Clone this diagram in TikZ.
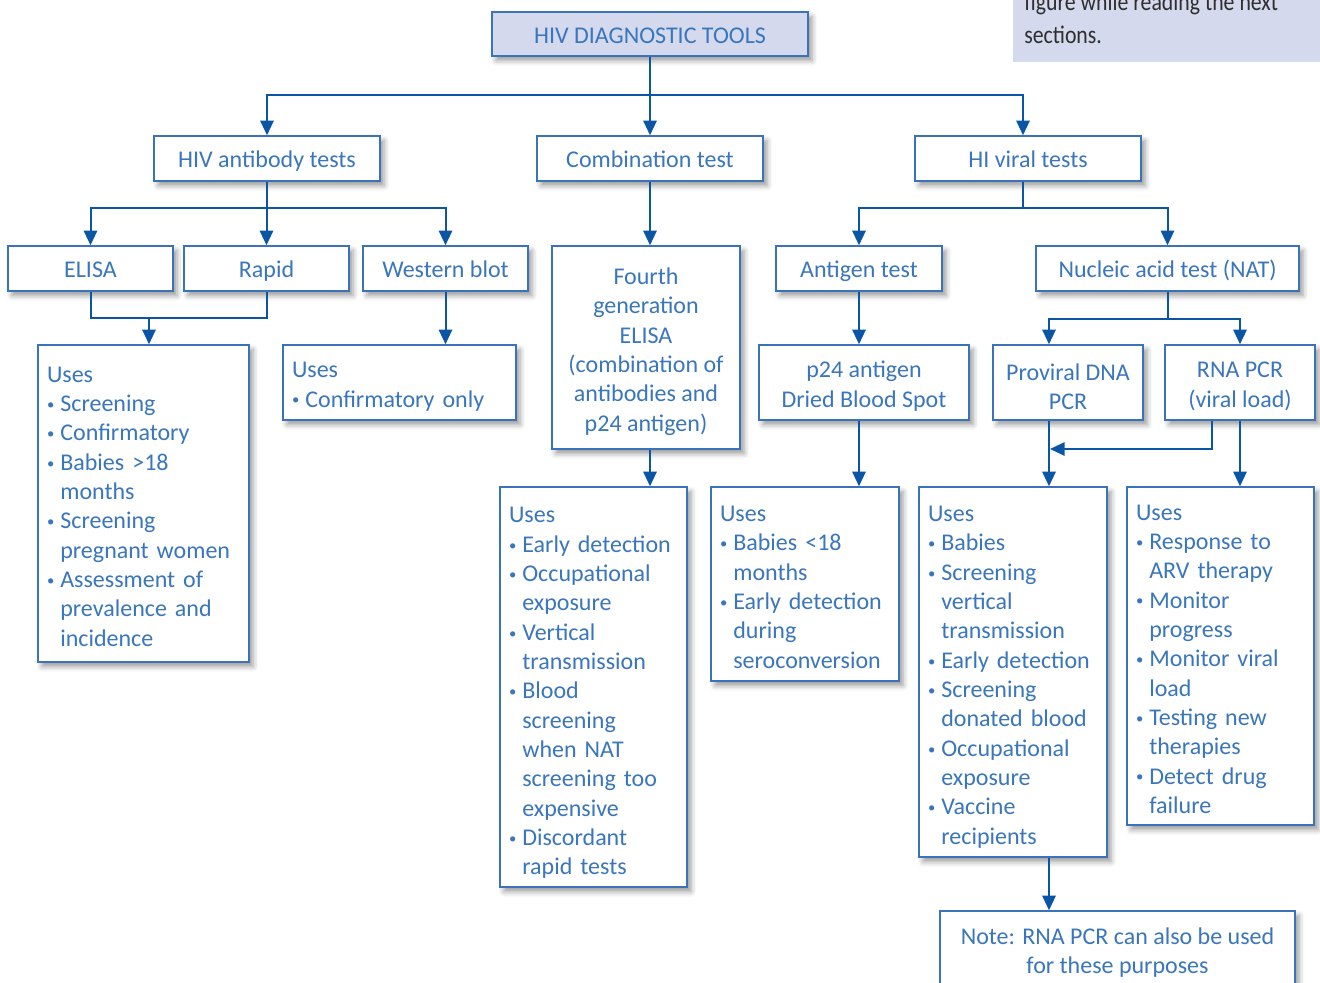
\documentclass[tikz,border=0pt]{standalone}
\usepackage{fontspec}
\setmainfont{Carlito}
\newfontfamily\condfont[FakeStretch=0.86]{Carlito}
\usetikzlibrary{arrows.meta,shadows.blur}

\definecolor{hivblue}{HTML}{0A56A5}
\definecolor{boxline}{HTML}{3A73BA}
\definecolor{boxtext}{HTML}{3A76BB}
\definecolor{lav}{HTML}{D4D9ED}
\definecolor{hintgrey}{HTML}{2E2E2E}

% bullet and hanging indent for the "Uses" lists
\newcommand\bl{\makebox[10pt][l]{\raisebox{1.6pt}{\fontsize{11}{11}\selectfont\textbullet}}}
\newcommand\ind{\hspace*{10pt}}
% extra room above the first line of a multi-line box
\newcommand\topgap[1]{\rule{0pt}{#1}}

\tikzset{
  box/.style={draw=boxline, line width=1.1pt, fill=white, text=boxtext,
    font=\fontsize{18}{22}\selectfont, inner sep=0pt,
    blur shadow={shadow xshift=3pt, shadow yshift=-3.5pt,
      shadow blur radius=4pt, shadow opacity=40}},
  onebox/.style={box, text height=16pt, text depth=2.2pt},
  usesbox/.style={box, align=left, inner xsep=6.75pt},
  link/.style={draw=hivblue, line width=1.5pt},
  feed/.style={link, -{Triangle[width=10pt,length=11pt]}},
  hint/.style={text=hintgrey, font=\condfont\fontsize{19}{22}\selectfont,
    inner sep=0pt, anchor=base west},
}

\begin{document}
\begin{tikzpicture}[x=0.75pt,y=-0.75pt]
\useasboundingbox (0,0) rectangle (1320,982);
\clip (0,0) rectangle (1320,982);

% reading hint in the corner
\fill[lav] (1013,-5) rectangle (1325,62);
\node[hint] (hint1) at (1024,10) {figure while reading the next};
\node[hint] (hint2) at (1024,43) {sections.};

% title
\node[box, fill=lav, text height=16.8pt, text depth=2.2pt,
  minimum width=237pt, minimum height=33pt] (title) at (650,34)
  {HIV DIAGNOSTIC TOOLS};

% main test families
\node[onebox, minimum width=169.5pt, minimum height=33.75pt] (hab) at (267,158.5) {HIV antibody tests};
\node[onebox, minimum width=169.5pt, minimum height=33.75pt] (comb) at (650,158.5) {Combination test};
\node[onebox, minimum width=169.5pt, minimum height=33.75pt] (hvt) at (1028,158.5) {HI viral tests};

% individual tests
\node[onebox, minimum width=123.75pt, minimum height=33.75pt] (elisa) at (90.5,268.5) {ELISA};
\node[onebox, minimum width=123.75pt, minimum height=33.75pt] (rapid) at (266.5,268.5) {Rapid};
\node[onebox, minimum width=123.75pt, minimum height=33.75pt] (wb) at (445.5,268.5) {Western blot};
\node[box, align=center, minimum width=141pt, minimum height=152.25pt] (fourth) at (646,347.5)
  {\topgap{18.6pt}Fourth\\generation\\ELISA\\(combination of\\antibodies and\\p24 antigen)};
\node[onebox, minimum width=124.5pt, minimum height=33.75pt] (antigen) at (859,268.5) {Antigen test};
\node[onebox, minimum width=197.25pt, minimum height=33.75pt] (nat) at (1167.5,268.5) {Nucleic acid test (NAT)};

\node[box, align=center, minimum width=157.5pt, minimum height=56.25pt] (p24) at (864,382.5)
  {\topgap{18pt}p24 antigen\\Dried Blood Spot};
\node[box, align=center, minimum width=112.5pt, minimum height=56.25pt] (dna) at (1068,382.5)
  {\topgap{18.6pt}Proviral DNA\\PCR};
\node[box, align=center, minimum width=112.5pt, minimum height=56.25pt] (rna) at (1240,382.5)
  {\topgap{17.6pt}RNA PCR\\(viral load)};

% uses of each test
\node[usesbox, text width=144.75pt, minimum width=158.25pt, minimum height=237.75pt] (uses1) at (143.5,503.5)
  {\topgap{16.2pt}Uses\\\bl Screening\\\bl Confirmatory\\\bl Babies >18\\\ind months\\\bl Screening\\\ind pregnant women\\\bl Assessment of\\\ind prevalence and\\\ind incidence};
\node[usesbox, text width=161.25pt, minimum width=174.75pt, minimum height=56.25pt] (uses2) at (399.5,382.5)
  {\topgap{17.7pt}Uses\\\bl Confirmatory only};
\node[usesbox, text width=126.75pt, minimum width=140.25pt, minimum height=300pt] (uses3) at (593.5,687)
  {\topgap{20.7pt}Uses\\\bl Early detection\\\bl Occupational\\\ind exposure\\\bl Vertical\\\ind transmission\\\bl Blood\\\ind screening\\\ind when NAT\\\ind screening too\\\ind expensive\\\bl Discordant\\\ind rapid tests};
\node[usesbox, text width=127.5pt, minimum width=141pt, minimum height=145.5pt] (uses4) at (805,584)
  {\topgap{16.2pt}Uses\\\bl Babies <18\\\ind months\\\bl Early detection\\\ind during\\\ind seroconversion};
\node[usesbox, text width=127.5pt, minimum width=141pt, minimum height=277.5pt] (uses5) at (1013,672)
  {\topgap{19.2pt}Uses\\\bl Babies\\\bl Screening\\\ind vertical\\\ind transmission\\\bl Early detection\\\bl Screening\\\ind donated blood\\\bl Occupational\\\ind exposure\\\bl Vaccine\\\ind recipients};
\node[usesbox, text width=126.75pt, minimum width=140.25pt, minimum height=253.5pt] (uses6) at (1220.5,656)
  {\topgap{16.2pt}Uses\\\bl Response to\\\ind ARV therapy\\\bl Monitor\\\ind progress\\\bl Monitor viral\\\ind load\\\bl Testing new\\\ind therapies\\\bl Detect drug\\\ind failure};

\node[box, align=center, minimum width=266.25pt, minimum height=59.25pt] (note) at (1117.5,950.5)
  {\topgap{15.6pt}Note: RNA PCR can also be used\\for these purposes};

% connectors
\coordinate (s1) at (650,95);
\coordinate (hvtin) at ([xshift=-3.75pt]hvt.north);
\draw[link] (title.south) -- (s1);
\draw[feed] (s1) -| (hab.north);
\draw[feed] (s1) -- (comb.north);
\draw[feed] (s1) -| (hvtin);

\coordinate (s2) at (267,208);
\draw[link] (hab.south) -- (s2);
\draw[feed] (s2) -| (elisa.north);
\draw[feed] (s2) -| (rapid.north);
\draw[feed] (s2) -| (wb.north);

\draw[feed] (comb.south) -- (comb.south |- fourth.north);

\coordinate (hvtout) at ([xshift=-3.75pt]hvt.south);
\coordinate (s3) at (1023,208);
\draw[link] (hvtout) -- (s3);
\draw[feed] (s3) -| (antigen.north);
\draw[feed] (s3) -| (nat.north);

\coordinate (j1) at (149,318);
\draw[link] (elisa.south) |- (j1) -| (rapid.south);
\draw[feed] (j1) -- (j1 |- uses1.north);

\draw[feed] (wb.south) -- (wb.south |- uses2.north);
\draw[feed] (antigen.south) -- (antigen.south |- p24.north);

\path (nat.south) ++(0,27) coordinate (s4);
\coordinate (dnain) at ([xshift=-14.25pt]dna.north);
\draw[link] (nat.south) -- (s4);
\draw[feed] (s4) -| (dnain);
\draw[feed] (s4) -| (rna.north);

\draw[feed] (comb.south |- fourth.south) -- (comb.south |- uses3.north);
\draw[feed] (antigen.south |- p24.south) -- (antigen.south |- uses4.north);

\coordinate (dnaout) at ([xshift=-14.25pt]dna.south);
\draw[feed] (dnaout) -- (dnaout |- uses5.north);
\draw[feed] (rna.south) -- (rna.south |- uses6.north);

\coordinate (rnaside) at ([xshift=-21pt]rna.south);
\coordinate (merge) at (1050,449);
\draw[feed] (rnaside) |- (merge);

\draw[feed] (dnaout |- uses5.south) -- (dnaout |- note.north);
\end{tikzpicture}
\end{document}
